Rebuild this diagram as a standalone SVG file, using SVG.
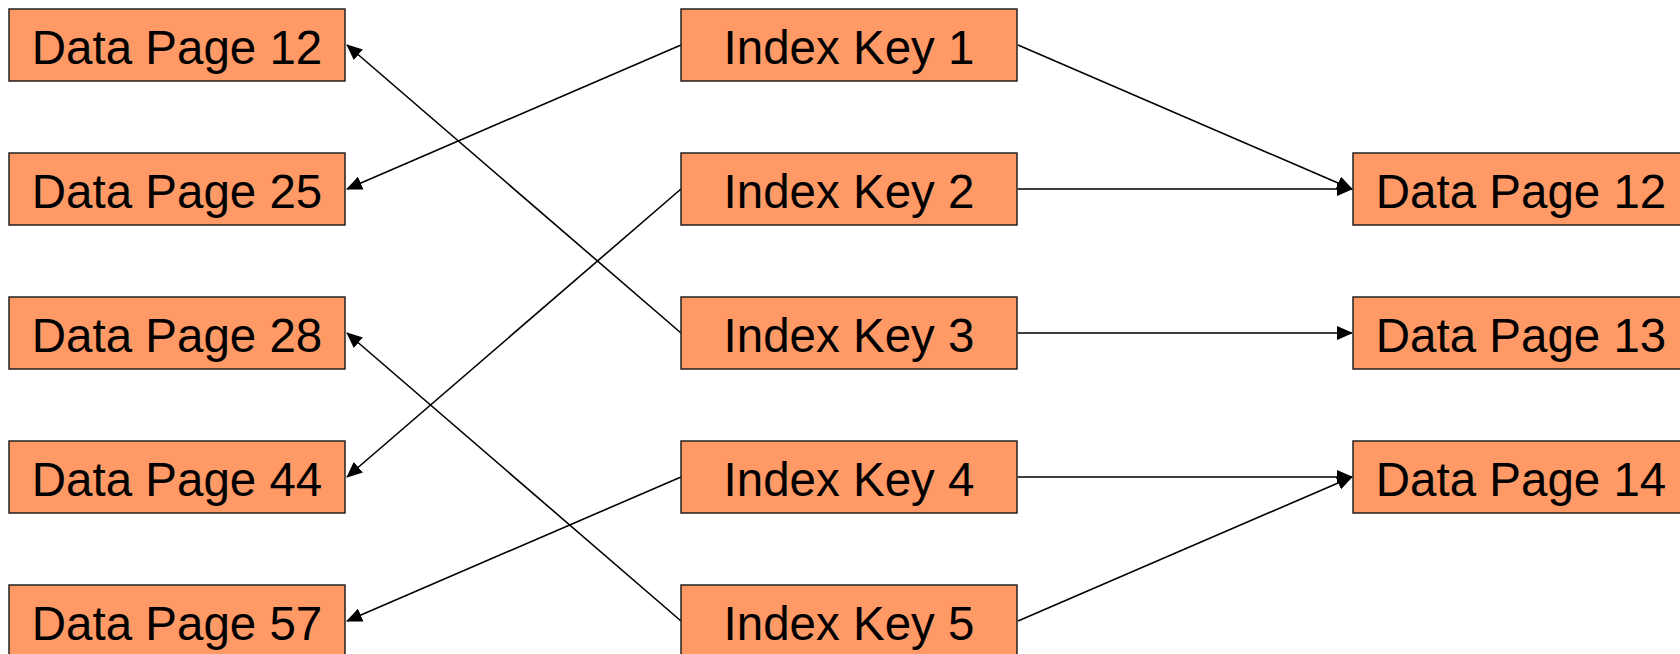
<svg xmlns="http://www.w3.org/2000/svg" width="1680" height="654" viewBox="0 0 1680 654">
  <style>
    .box { fill: #FF9966; stroke: #222222; stroke-width: 1.5; }
    .label { font-family: "Liberation Sans", Arial, sans-serif; font-size: 47.5px; fill: #000000; text-anchor: middle; }
    .edge { stroke: #000000; stroke-width: 1.6; fill: none; marker-end: url(#arrow); }
  </style>
  <defs>
    <marker id="arrow" markerWidth="16" markerHeight="14" refX="15" refY="7" orient="auto" markerUnits="userSpaceOnUse">
      <path d="M0,0 L16,7 L0,14 Z" fill="#000000"/>
    </marker>
  </defs>
  <rect width="1680" height="654" fill="#FFFFFF"/>

  <!-- connectors -->
  <g id="connectors">
    <line class="edge" x1="681" y1="333" x2="347" y2="45"/>
    <line class="edge" x1="681" y1="45" x2="347" y2="189"/>
    <line class="edge" x1="681" y1="189" x2="347" y2="477"/>
    <line class="edge" x1="681" y1="621" x2="347" y2="333"/>
    <line class="edge" x1="681" y1="477" x2="347" y2="621"/>
    <line class="edge" x1="1018" y1="45" x2="1352" y2="189"/>
    <line class="edge" x1="1018" y1="189" x2="1352" y2="189"/>
    <line class="edge" x1="1018" y1="333" x2="1352" y2="333"/>
    <line class="edge" x1="1018" y1="477" x2="1352" y2="477"/>
    <line class="edge" x1="1018" y1="621" x2="1352" y2="477"/>
  </g>

  <!-- left column: data pages -->
  <g id="left-dp12"><rect class="box" x="9" y="9" width="336" height="72"/><text class="label" x="177" y="64">Data Page 12</text></g>
  <g id="left-dp25"><rect class="box" x="9" y="153" width="336" height="72"/><text class="label" x="177" y="208">Data Page 25</text></g>
  <g id="left-dp28"><rect class="box" x="9" y="297" width="336" height="72"/><text class="label" x="177" y="352">Data Page 28</text></g>
  <g id="left-dp44"><rect class="box" x="9" y="441" width="336" height="72"/><text class="label" x="177" y="496">Data Page 44</text></g>
  <g id="left-dp57"><rect class="box" x="9" y="585" width="336" height="72"/><text class="label" x="177" y="640">Data Page 57</text></g>

  <!-- middle column: index keys -->
  <g id="key1"><rect class="box" x="681" y="9" width="336" height="72"/><text class="label" x="849" y="64">Index Key 1</text></g>
  <g id="key2"><rect class="box" x="681" y="153" width="336" height="72"/><text class="label" x="849" y="208">Index Key 2</text></g>
  <g id="key3"><rect class="box" x="681" y="297" width="336" height="72"/><text class="label" x="849" y="352">Index Key 3</text></g>
  <g id="key4"><rect class="box" x="681" y="441" width="336" height="72"/><text class="label" x="849" y="496">Index Key 4</text></g>
  <g id="key5"><rect class="box" x="681" y="585" width="336" height="72"/><text class="label" x="849" y="640">Index Key 5</text></g>

  <!-- right column: data pages -->
  <g id="right-dp12"><rect class="box" x="1353" y="153" width="336" height="72"/><text class="label" x="1521" y="208">Data Page 12</text></g>
  <g id="right-dp13"><rect class="box" x="1353" y="297" width="336" height="72"/><text class="label" x="1521" y="352">Data Page 13</text></g>
  <g id="right-dp14"><rect class="box" x="1353" y="441" width="336" height="72"/><text class="label" x="1521" y="496">Data Page 14</text></g>
</svg>
